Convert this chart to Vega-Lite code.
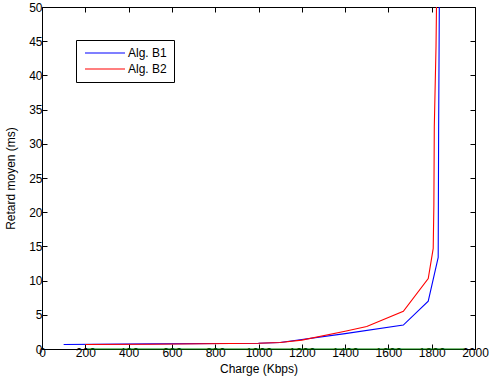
{
  "$schema": "https://vega.github.io/schema/vega-lite/v6.json",
  "width": 433,
  "height": 342,
  "autosize": {"type": "none"},
  "padding": {"left": 42, "top": 7, "right": 21, "bottom": 37},
  "background": "white",
  "config": {
    "font": "Liberation Sans",
    "view": {"stroke": null},
    "axis": {
      "labelFont": "Liberation Sans",
      "titleFont": "Liberation Sans",
      "labelFontSize": 12,
      "titleFontSize": 12,
      "titleFontWeight": "normal",
      "labelColor": "black",
      "titleColor": "black",
      "domainColor": "black",
      "tickColor": "black",
      "tickSize": -5,
      "grid": false,
      "format": "d"
    }
  },
  "datasets": {
    "curves": [
      {"charge": 100, "retard": 0.65, "alg": "Alg. B1"},
      {"charge": 500, "retard": 0.75, "alg": "Alg. B1"},
      {"charge": 1000, "retard": 0.85, "alg": "Alg. B1"},
      {"charge": 1100, "retard": 0.95, "alg": "Alg. B1"},
      {"charge": 1400, "retard": 2.25, "alg": "Alg. B1"},
      {"charge": 1669, "retard": 3.5, "alg": "Alg. B1"},
      {"charge": 1784, "retard": 7.0, "alg": "Alg. B1"},
      {"charge": 1830, "retard": 13.4, "alg": "Alg. B1"},
      {"charge": 1832, "retard": 31.8, "alg": "Alg. B1"},
      {"charge": 1836, "retard": 55, "alg": "Alg. B1"},
      {"charge": 200, "retard": 0.65, "alg": "Alg. B2"},
      {"charge": 500, "retard": 0.7, "alg": "Alg. B2"},
      {"charge": 1000, "retard": 0.85, "alg": "Alg. B2"},
      {"charge": 1100, "retard": 0.95, "alg": "Alg. B2"},
      {"charge": 1200, "retard": 1.3, "alg": "Alg. B2"},
      {"charge": 1400, "retard": 2.6, "alg": "Alg. B2"},
      {"charge": 1500, "retard": 3.3, "alg": "Alg. B2"},
      {"charge": 1669, "retard": 5.5, "alg": "Alg. B2"},
      {"charge": 1784, "retard": 10.3, "alg": "Alg. B2"},
      {"charge": 1807, "retard": 14.7, "alg": "Alg. B2"},
      {"charge": 1810, "retard": 21, "alg": "Alg. B2"},
      {"charge": 1812, "retard": 32.5, "alg": "Alg. B2"},
      {"charge": 1820, "retard": 44.3, "alg": "Alg. B2"},
      {"charge": 1824, "retard": 55, "alg": "Alg. B2"}
    ],
    "base": [
      {"charge": 210, "retard": 0},
      {"charge": 1950, "retard": 0}
    ]
  },
  "layer": [
    {
      "data": {"name": "base"},
      "mark": {"type": "line", "color": "#008000", "strokeWidth": 1.2, "clip": false},
      "encoding": {
        "x": {"field": "charge", "type": "quantitative", "scale": {"domain": [0, 2000], "nice": false}, "axis": {"values": [0,200,400,600,800,1000,1200,1400,1600,1800,2000], "title": "Charge (Kbps)", "titlePadding": 5, "labelPadding": 3, "labelFlush": false}},
        "y": {"field": "retard", "type": "quantitative", "scale": {"domain": [0, 50], "nice": false}, "axis": {"values": [0,5,10,15,20,25,30,35,40,45,50], "title": "Retard moyen (ms)", "titlePadding": 11, "labelPadding": 5, "labelFlush": false}}
      }
    },
    {
      "data": {"name": "curves"},
      "mark": {"type": "line", "strokeWidth": 1.1, "clip": true},
      "encoding": {
        "x": {"field": "charge", "type": "quantitative", "axis": {"orient": "top", "labels": false, "title": null, "values": [0,200,400,600,800,1000,1200,1400,1600,1800,2000]}},
        "y": {"field": "retard", "type": "quantitative", "axis": {"orient": "right", "labels": false, "title": null, "values": [0,5,10,15,20,25,30,35,40,45,50]}},
        "order": {"field": "charge", "type": "quantitative"},
        "color": {
          "field": "alg", "type": "nominal",
          "scale": {"domain": ["Alg. B1", "Alg. B2"], "range": ["#0000ff", "#ff0000"]},
          "legend": {
            "title": null,
            "orient": "none",
            "legendX": 34,
            "legendY": 33,
            "symbolType": "M-1,0H9",
            "symbolSize": 64,
            "symbolStrokeWidth": 1.1,
            "labelFont": "Liberation Sans",
            "labelFontSize": 12,
            "labelColor": "black",
            "strokeColor": "black",
            "fillColor": "white",
            "padding": 7,
            "rowPadding": 4,
            "labelOffset": 33
          }
        }
      }
    }
  ],
  "resolve": {"axis": {"x": "independent", "y": "independent"}}
}
